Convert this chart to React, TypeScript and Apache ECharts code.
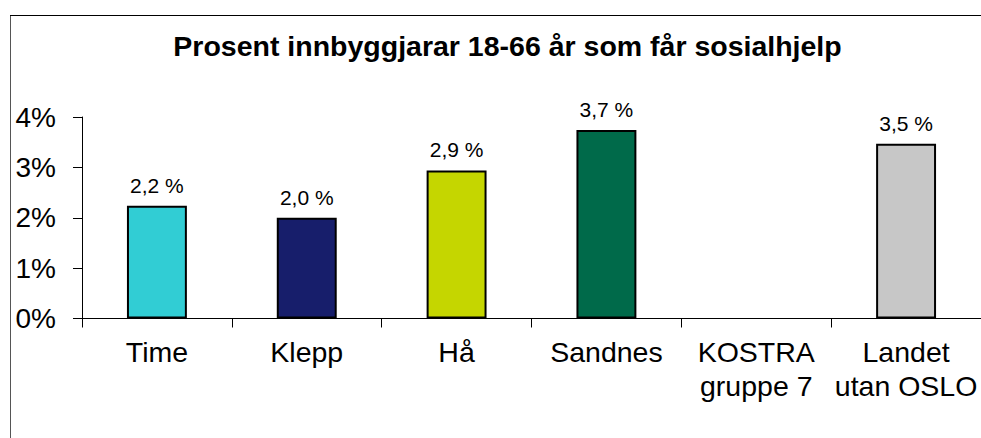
import React, { useEffect, useRef } from "react";
import * as echarts from "echarts";

const categories = ["Time", "Klepp", "Hå", "Sandnes", "KOSTRA\ngruppe 7", "Landet\nutan OSLO"];
const values: (number | null)[] = [2.24, 2.0, 2.94, 3.74, null, 3.47];
const barColors = ["#31CDD4", "#171E6B", "#C5D600", "#006A4A", "#C7C7C7", "#C7C7C7"];
const yTicks = [0, 1, 2, 3, 4];
const titleText = "Prosent innbyggjarar 18-66 år som får sosialhjelp";

const FONT = "'Liberation Sans', Arial, sans-serif";

export default function App() {
  const ref = useRef<HTMLDivElement>(null);
  useEffect(() => {
    document.body.style.margin = "0";
    document.body.style.overflow = "hidden";
    if (!ref.current) return;
    const chart = echarts.init(ref.current, null, { renderer: "svg" });
    chart.setOption({
      animation: false,
      backgroundColor: "#fff",
      textStyle: { fontFamily: FONT },
      graphic: [
        { type: "line", shape: { x1: 10.5, y1: 15, x2: 10.5, y2: 438 }, style: { stroke: "#555", lineWidth: 1 } },
        { type: "line", shape: { x1: 10, y1: 15.5, x2: 981, y2: 15.5 }, style: { stroke: "#000", lineWidth: 1 } },
        {
          type: "text",
          x: 507.5,
          y: 46,
          style: {
            text: titleText,
            fontFamily: FONT,
            fontSize: 28.5,
            fontWeight: "bold",
            fill: "#000",
            textAlign: "center",
            textVerticalAlign: "middle",
          },
        },
      ],
      grid: { left: 82, top: 117, right: -3, bottom: 119.5 },
      xAxis: {
        type: "category",
        data: categories,
        axisLine: { lineStyle: { color: "#000", width: 1 } },
        axisTick: { show: true, length: 9, lineStyle: { color: "#000" } },
        axisLabel: {
          interval: 0,
          color: "#000",
          fontSize: 28.5,
          lineHeight: 34,
          margin: 16,
          fontFamily: FONT,
        },
      },
      yAxis: {
        type: "value",
        min: yTicks[0],
        max: yTicks[yTicks.length - 1],
        interval: 1,
        splitLine: { show: false },
        axisLine: { show: true, lineStyle: { color: "#000", width: 1 } },
        axisTick: { show: true, length: 9, lineStyle: { color: "#000" } },
        axisLabel: {
          color: "#000",
          fontSize: 28,
          margin: 26,
          fontFamily: FONT,
          formatter: (v: number) => `${v}%`,
        },
      },
      series: [
        {
          type: "bar",
          barWidth: "40%",
          data: values.map((v, i) => ({
            value: v,
            itemStyle: { color: barColors[i], borderColor: "#000", borderWidth: 2 },
          })),
          label: {
            show: true,
            position: "top",
            distance: 10,
            color: "#000",
            fontSize: 21,
            fontFamily: FONT,
            formatter: (p: any) =>
              p.value == null ? "" : `${Number(p.value).toFixed(1).replace(".", ",")} %`,
          },
        },
      ],
    });
    return () => chart.dispose();
  }, []);
  return <div ref={ref} style={{ width: 981, height: 438 }} />;
}
